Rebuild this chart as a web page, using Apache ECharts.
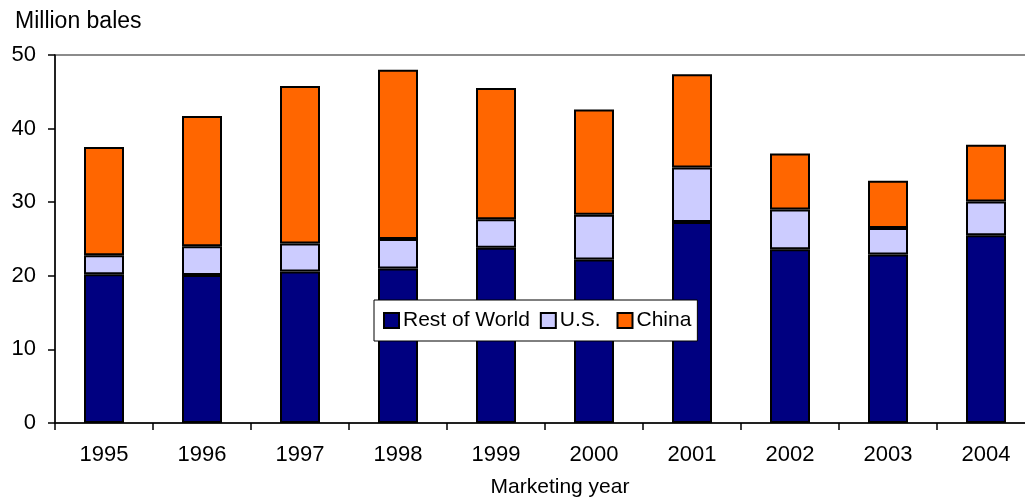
<!DOCTYPE html>
<html>
<head>
<meta charset="utf-8">
<style>
  html, body { margin: 0; padding: 0; background: #fff; }
  #chart { width: 1025px; height: 497px; }
</style>
<script src="https://cdn.jsdelivr.net/npm/echarts@6/dist/echarts.min.js"></script>
</head>
<body>
<div id="chart"></div>
<script>
// Cotton stocks by marketing year, million bales
const years = ['1995', '1996', '1997', '1998', '1999', '2000', '2001', '2002', '2003', '2004'];
const restOfWorld = [20.2, 20.1, 20.6, 21.0, 23.8, 22.2, 27.3, 23.6, 22.9, 25.5];
const us =          [2.6, 3.9, 3.8, 4.0, 3.9, 6.1, 7.4, 5.4, 3.6, 4.6];
const china =       [14.7, 17.7, 21.4, 23.0, 17.8, 14.3, 12.7, 7.6, 6.4, 7.7];
const yTicks = [0, 10, 20, 30, 40, 50];

const FONT = '"Liberation Sans", Arial, sans-serif';
const chart = echarts.init(document.getElementById('chart'), null, { renderer: 'canvas' });

function barSeries(name, data, color) {
  return {
    name: name,
    type: 'bar',
    stack: 'total',
    data: data,
    barWidth: 40,
    itemStyle: { color: color, borderColor: '#000', borderWidth: 2 },
    emphasis: { disabled: true }
  };
}

chart.setOption({
  animation: false,
  textStyle: { fontFamily: FONT },
  // plot area runs past the right edge of the canvas, so only its top border shows
  grid: {
    left: 55, top: 55, width: 980, height: 368,
    outerBoundsMode: 'none',
    containLabel: false,
    show: true, borderColor: '#666', borderWidth: 1.5, backgroundColor: 'transparent'
  },
  legend: {
    left: 374, top: 300,
    orient: 'horizontal',
    itemWidth: 15, itemHeight: 15, itemGap: 10,
    icon: 'rect',
    backgroundColor: '#fff',
    borderColor: '#000', borderWidth: 1,
    padding: [10, 6, 10, 9],
    textStyle: { fontFamily: FONT, fontSize: 21, color: '#000', padding: [0, 0, 0, -1] },
    formatter: function (n) { return n === 'U.S.' ? 'U.S. ' : n; },
    itemStyle: { borderColor: '#000', borderWidth: 2 },
    data: ['Rest of World', 'U.S.', 'China']
  },
  xAxis: {
    type: 'category',
    data: years,
    boundaryGap: true,
    axisLine: { lineStyle: { color: '#000', width: 1.5 } },
    axisTick: { show: true, length: 7, alignWithLabel: false, lineStyle: { color: '#000', width: 1.5 } },
    axisLabel: { color: '#000', fontSize: 22, fontFamily: FONT, margin: 21, interval: 0 },
    splitLine: { show: false }
  },
  yAxis: {
    type: 'value',
    min: yTicks[0], max: yTicks[yTicks.length - 1], interval: 10,
    axisLine: { show: true, lineStyle: { color: '#000', width: 1.5 } },
    axisTick: { show: true, length: 7, lineStyle: { color: '#000', width: 1.5 } },
    axisLabel: { color: '#000', fontSize: 22, fontFamily: FONT, margin: 19 },
    splitLine: { show: false }
  },
  graphic: [
    {
      type: 'text', left: 15, top: 10,
      style: { text: 'Million bales', fontSize: 23, fontFamily: FONT, fill: '#000' }
    },
    {
      type: 'text', x: 560, y: 477,
      style: { text: 'Marketing year', fontSize: 21, fontFamily: FONT, fill: '#000', align: 'center', verticalAlign: 'top' }
    }
  ],
  series: [
    barSeries('Rest of World', restOfWorld, '#000080'),
    barSeries('U.S.', us, '#CCCCFF'),
    barSeries('China', china, '#FF6600')
  ]
});
</script>
</body>
</html>
